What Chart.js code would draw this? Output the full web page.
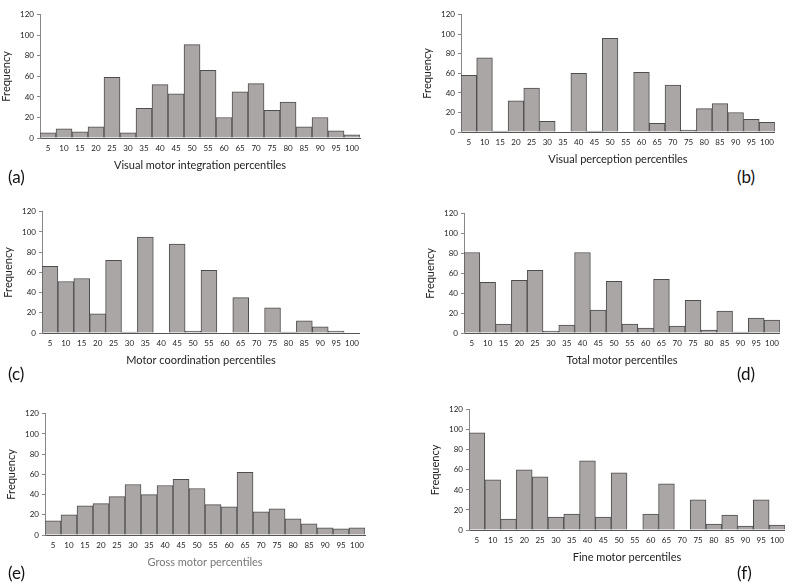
<!DOCTYPE html>
<html>
<head>
<meta charset="utf-8">
<script src="https://cdn.jsdelivr.net/npm/chart.js@4/dist/chart.umd.min.js"></script>
<style>
  body { margin: 0; background: #fff; width: 800px; height: 585px; position: relative; overflow: hidden; font-family: Lato, "Open Sans", sans-serif; }
  .panel { position: absolute; }
  .tag { position: absolute; font-size: 17px; color: #111; }
</style>
</head>
<body>
<div class="panel" id="pa"><canvas id="ca"></canvas></div>
<div class="panel" id="pb"><canvas id="cb"></canvas></div>
<div class="panel" id="pc"><canvas id="cc"></canvas></div>
<div class="panel" id="pd"><canvas id="cd"></canvas></div>
<div class="panel" id="pe"><canvas id="ce"></canvas></div>
<div class="panel" id="pf"><canvas id="cf"></canvas></div>
<div class="tag" style="left:8px;top:166px">(a)</div>
<div class="tag" style="left:737px;top:166px">(b)</div>
<div class="tag" style="left:8px;top:363px">(c)</div>
<div class="tag" style="left:737px;top:363px">(d)</div>
<div class="tag" style="left:8px;top:562px">(e)</div>
<div class="tag" style="left:737px;top:562px">(f)</div>
<script>
// Percentile bins shared by all six histograms
const percentiles = ["5", "10", "15", "20", "25", "30", "35", "40", "45", "50",
  "55", "60", "65", "70", "75", "80", "85", "90", "95", "100"];
const yTicks = [0, 20, 40, 60, 80, 100, 120];

// Frequencies
const visualMotorIntegration = [5, 9, 6, 11, 59, 5, 29, 52, 43, 91, 66, 20, 45, 53, 27, 35, 11, 20, 7, 3];
const visualPerception = [58, 76, 1, 32, 45, 11, 0, 60, 1, 96, 0, 61, 9, 48, 2, 24, 29, 20, 13, 10];
const motorCoordination = [66, 51, 54, 19, 72, 1, 95, 0, 88, 2, 62, 0, 35, 0, 25, 1, 12, 6, 2, 0];
const totalMotor = [81, 51, 9, 53, 63, 2, 8, 81, 23, 52, 9, 5, 54, 7, 33, 3, 22, 1, 15, 13];
const grossMotor = [14, 20, 29, 31, 38, 50, 40, 49, 55, 46, 30, 28, 62, 23, 26, 16, 11, 7, 6, 7];
const fineMotor = [97, 50, 11, 60, 53, 13, 16, 69, 13, 57, 0, 16, 46, 0, 30, 6, 15, 4, 30, 5];

const Y_WIDTH = 40;
const X_HEIGHT = 34;
const PAD_TOP = 6;

/**
 * Builds one histogram panel
 * @param {string} key - panel suffix
 * @param {string} title - x axis title
 * @param {number[]} values - frequencies
 * @param {Object} box - axisX, top, bottom, right of plot area in page pixels
 * @param {string} titleColor
 */
const makePanel = (key, title, values, box, titleColor) => {
  const div = document.getElementById("p" + key);
  const left = box.axisX - Y_WIDTH;
  const top = box.top - PAD_TOP;
  const width = box.right - left;
  const height = box.bottom + X_HEIGHT - top;
  div.style.left = left + "px";
  div.style.top = top + "px";
  div.style.width = width + "px";
  div.style.height = height + "px";

  new Chart(document.getElementById("c" + key), {
    type: "bar",
    data: {
      labels: percentiles,
      datasets: [{
        data: values,
        backgroundColor: "#aba6a6",
        borderColor: "#4d4d4d",
        borderWidth: 1,
        barPercentage: 1,
        categoryPercentage: 1,
      }],
    },
    options: {
      responsive: true,
      maintainAspectRatio: false,
      animation: false,
      layout: { padding: { top: PAD_TOP, right: 0, left: 0, bottom: 0 } },
      plugins: { legend: { display: false }, tooltip: { enabled: false } },
      scales: {
        x: {
          grid: { display: false, drawTicks: false },
          border: { color: "#555", width: 1 },
          ticks: { font: { family: "Lato", size: 8 }, color: "#222", padding: 6, maxRotation: 0, autoSkip: false },
          title: { display: true, text: title, font: { family: "Lato", size: 11 }, color: titleColor, padding: { top: 0, bottom: 0 } },
          afterFit: (s) => { s.height = X_HEIGHT; },
        },
        y: {
          min: 0,
          max: 120,
          afterBuildTicks: (s) => { s.ticks = yTicks.map((v) => ({ value: v })); },
          grid: { drawOnChartArea: false, tickLength: 3, color: "#888" },
          border: { color: "#888", width: 1 },
          ticks: { font: { family: "Lato", size: 8 }, color: "#222", padding: 3 },
          title: { display: true, text: "Frequency", font: { family: "Lato", size: 11 }, color: "#222", padding: 0 },
          afterFit: (s) => { s.width = Y_WIDTH; },
        },
      },
    },
  });
};

makePanel("a", "Visual motor integration percentiles", visualMotorIntegration, { axisX: 40, top: 13, bottom: 138, right: 365 }, "#222");
makePanel("b", "Visual perception percentiles", visualPerception, { axisX: 461, top: 13, bottom: 132, right: 780 }, "#222");
makePanel("c", "Motor coordination percentiles", motorCoordination, { axisX: 42, top: 210, bottom: 333, right: 365 }, "#222");
makePanel("d", "Total motor percentiles", totalMotor, { axisX: 464, top: 212, bottom: 333, right: 785 }, "#222");
makePanel("e", "Gross motor percentiles", grossMotor, { axisX: 45, top: 412, bottom: 535, right: 370 }, "#777");
makePanel("f", "Fine motor percentiles", fineMotor, { axisX: 469, top: 408, bottom: 530, right: 790 }, "#222");
</script>
</body>
</html>
